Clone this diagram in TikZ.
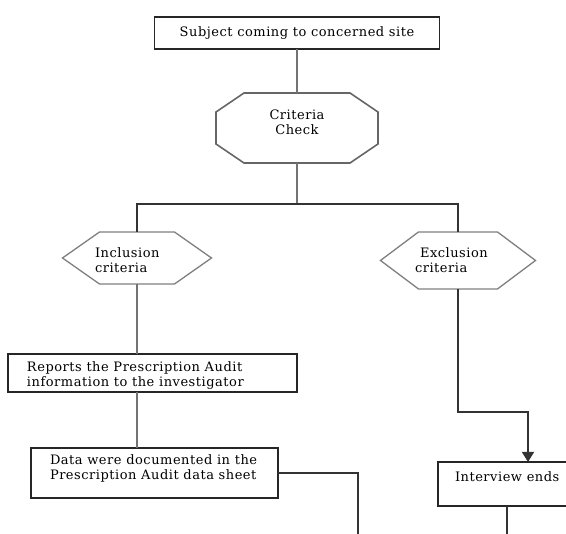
\documentclass[tikz,border=0pt]{standalone}
\usepackage{fontspec}
\setmainfont[LetterSpace=4]{DejaVu Serif}
\usepackage{tikz}
\usetikzlibrary{positioning, calc, arrows.meta}

\begin{document}
\begin{tikzpicture}[
        x=1pt, y=-1pt,
        every node/.style={font=\fontsize{13}{15}\selectfont, inner sep=0pt, outer sep=0pt},
        box/.style={draw, line width=1.5pt, black!85, text=black},
        octaline/.style={draw, line width=1.6pt, black!60, line join=miter},
        hexaline/.style={draw, line width=1.3pt, black!50, line join=miter},
        txt/.style={align=left, text=black},
        link/.style={draw, line width=1.5pt, black!80},
        linkgray/.style={draw, line width=2pt, black!55}
    ]

    \fill[white] (0,0) rectangle (566,534);
    \useasboundingbox (0,0) rectangle (566,534);
    \clip (0,0) rectangle (566,534);

    % Start
    \node[box, minimum width=285pt, minimum height=32pt] (subject) at (297,33) {Subject coming to concerned site};

    % Criteria check
    \node[minimum width=162pt, minimum height=70pt] (criteria) at (297,128) {};
    \path[octaline] ([xshift=28pt]criteria.north west) -- ([xshift=-28pt]criteria.north east)
        -- ([yshift=-19pt]criteria.north east) -- ([yshift=19pt]criteria.south east)
        -- ([xshift=-28pt]criteria.south east) -- ([xshift=28pt]criteria.south west)
        -- ([yshift=19pt]criteria.south west) -- ([yshift=-19pt]criteria.north west) -- cycle;
    \node[txt, align=center] (criteriatxt) at (297,122) {Criteria\\Check};

    % Split point
    \coordinate (split) at (297,204);

    % Inclusion
    \node[minimum width=149pt, minimum height=52pt] (inclusion) at (137,258) {};
    \path[hexaline] ([xshift=37pt]inclusion.north west) -- ([xshift=-37pt]inclusion.north east)
        -- (inclusion.east) -- ([xshift=-37pt]inclusion.south east)
        -- ([xshift=37pt]inclusion.south west) -- (inclusion.west) -- cycle;
    \node[txt, anchor=west] (inclusiontxt) at (95,260) {Inclusion\\criteria};

    % Exclusion
    \node[minimum width=155pt, minimum height=57pt] (exclusion) at (458,260.5) {};
    \path[hexaline] ([xshift=38pt]exclusion.north west) -- ([xshift=-38pt]exclusion.north east)
        -- (exclusion.east) -- ([xshift=-38pt]exclusion.south east)
        -- ([xshift=38pt]exclusion.south west) -- (exclusion.west) -- cycle;
    \node[txt, anchor=west] (exclusiontxt) at (415,260.5) {\hspace{5pt}Exclusion\\criteria};

    % Inclusion branch
    \node[box, minimum width=289pt, minimum height=38pt, anchor=north west] (reports) at (8,354) {};
    \node[txt, anchor=north west] (reportstxt) at (27,362) {Reports the Prescription Audit\\information to the investigator};

    \node[box, minimum width=247pt, minimum height=50pt, anchor=north west] (data) at (31,448) {};
    \node[txt, anchor=north west] (datatxt) at (50,455) {Data were documented in the\\Prescription Audit data sheet};

    % Exclusion branch
    \node[box, minimum width=180pt, minimum height=44pt, anchor=north west] (interview) at (438,462) {};
    \node[txt, anchor=north west] (interviewtxt) at (455,472) {Interview ends};

    \coordinate (bend) at (528,412);
    \coordinate (datadown) at (358,540);
    \coordinate (intdown) at (507,540);

    % Connections
    \path[linkgray] (subject) -- (criteria);
    \path[linkgray] (criteria.south) -- (split);
    \path[link] (inclusion.north) |- (split) -| (exclusion.north);
    \path[linkgray] (inclusion.south) -- (inclusion.south |- reports.north);
    \path[linkgray] (inclusion.south |- reports.south) -- (inclusion.south |- data.north);
    \path[link, -{Triangle[width=12pt, length=10pt]}] (exclusion.south) |- (bend) -- (bend |- interview.north);
    \path[link] (data.east) -| (datadown);
    \path[link] (interview.south -| intdown) -- (intdown);

\end{tikzpicture}
\end{document}
